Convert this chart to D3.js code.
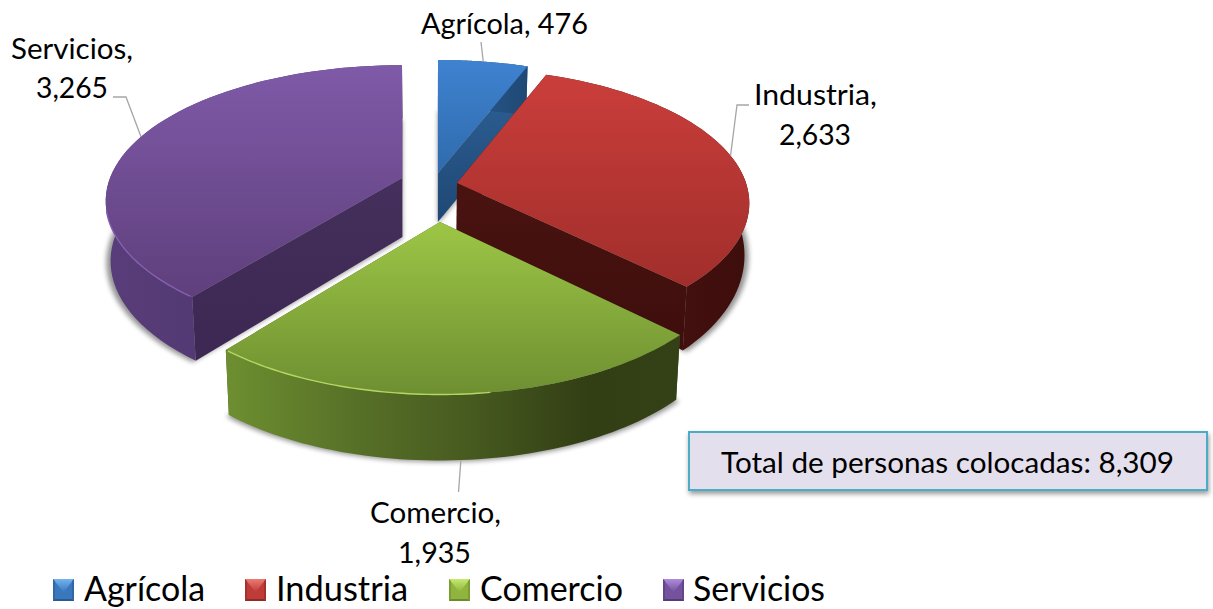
<!DOCTYPE html>
<html><head><meta charset="utf-8">
<style>html,body{margin:0;padding:0;background:#fff}svg{display:block}text{font-family:Lato,Carlito,"Open Sans",sans-serif;fill:#000}</style>
<script src="https://cdn.jsdelivr.net/npm/d3@7/dist/d3.min.js"></script></head>
<body><svg id="c" width="1213" height="609"></svg>
<script>
const categories = ["Agrícola","Industria","Comercio","Servicios"];
const values = [476,2633,1935,3265];
const valueLabels = ["476","2,633","1,935","3,265"];
const totalLabel = "Total de personas colocadas: 8,309";

// layout of the exploded slices
const centreX = [438,457,440,402];
const centreY = [173,183,222,178];
const radiusX = [290,289,290,292];
const radiusY = [130,132,138,132];
const persp   = [.15,.15,.20,.17];
const depth0  = [49,49,62,59];
const depthV  = [0,21,4,6];
const drawOrder = [0,1,3,2];
const topColors  = [["#3f82d0","#2f6bad"],["#ca3e3b","#a12e2b"],["#9dc646","#6e8f31"],["#7f5aa8","#5f3f7c"]];
const faceColors = [["#2f6299","#1f4874"],["#491310","#3e0e0c"],["#46591f","#46591f"],["#452f5c","#3c2852"]];
const sideStops  = [
  [["0","#2f6299"],["1","#1f4874"]],
  [["0","#4a1410"],["1","#3e0e0c"]],
  [["0","#6d8f30"],[".3","#566f27"],[".55","#46591f"],[".8","#323e14"],["1","#344116"]],
  [["0","#583d7a"],["1","#4a3265"]]];
const rimColors = [null,null,"#b4d764","#8461b0"];
const rimFrom = [0,0,172,219];
const rimTo   = [0,0,218.5,256];
const legendText = [[84,121],[276,132],[480,143],[693,132]];
const legendKeyX = [53,245,449,663];
const keyColors = [["#74b4f0","#3a78be","#2a5a92"],["#ee7a74","#bf3b38","#8f2a28"],["#c6e96e","#8fb53f","#6a8a2c"],["#ae8cdc","#74529e","#553a78"]];
const labelSpec = [
 [{t:"Agrícola, 476",x:421,y:34,w:167}],
 [{t:"Industria,",x:754,y:105,w:123},{t:"2,633",x:779,y:145,w:72}],
 [{t:"Comercio,",x:370,y:523,w:131},{t:"1,935",x:398,y:563,w:73}],
 [{t:"Servicios,",x:11,y:59,w:122},{t:"3,265",x:36,y:98,w:72}]];
const leaderElbows = [[[481,42]],[[749,105],[737,105]],[[458.5,492]],[[113,97],[126,97]]];

const svg = d3.select("#c");
const defs = svg.append("defs");
const globalCx = 430;
const arcs = d3.pie().sort(null).value(d=>d)(values);
const line = d3.line();

function pt(i,th,r,h,narrow=.985){
  const u=r*Math.sin(th), v=-r*Math.cos(th), s=1/(1-persp[i]*v);
  let x=centreX[i]+radiusX[i]*u*s, y=centreY[i]+radiusY[i]*v*s;
  if(h){ y+=(depth0[i]+depthV[i]*v); x=globalCx+(x-globalCx)*narrow; }
  return [x,y];
}
const sweep=(a)=>d3.range(0,61).map(k=>a.startAngle+(a.endAngle-a.startAngle)*k/60);

function grad(id,stops,horizontal){
  const g=defs.append("linearGradient").attr("id",id).attr("x1",0).attr("y1",0)
    .attr("x2",horizontal?1:0).attr("y2",horizontal?0:1);
  stops.forEach(s=>g.append("stop").attr("offset",s[0]).attr("stop-color",s[1]));
}
defs.append("filter").attr("id","blur").attr("x","-20%").attr("y","-20%").attr("width","140%").attr("height","140%")
  .append("feGaussianBlur").attr("stdDeviation",2.4);
defs.append("filter").attr("id","soft").append("feGaussianBlur").attr("stdDeviation",.4);
const bs=defs.append("filter").attr("id","boxShadow").attr("x","-5%").attr("y","-20%").attr("width","110%").attr("height","150%");
bs.append("feDropShadow").attr("dx",1).attr("dy",3).attr("stdDeviation",2.5).attr("flood-color","#000").attr("flood-opacity",.4);

categories.forEach((c,i)=>{
  grad("top"+i,[["0",topColors[i][0]],["1",topColors[i][1]]]);
  grad("face"+i,[["0",faceColors[i][0]],["1",faceColors[i][1]]]);
  grad("side"+i,sideStops[i],true);
  grad("keyTop"+i,[["0",keyColors[i][0]],["1",keyColors[i][1]]]);
});

const pie = svg.append("g");
drawOrder.forEach(i=>{
  const a=arcs[i], g=pie.append("g").attr("class","slice").datum(a);
  const ths=sweep(a);
  const apexT=[centreX[i],centreY[i]], apexB=[globalCx+(centreX[i]-globalCx)*.985,centreY[i]+depth0[i]];
  const topRim=ths.map(t=>pt(i,t,1,false)), botRim=ths.map(t=>pt(i,t,1,true));
  // soft shadow of the base, slightly wider than the base itself
  const shadowRim=ths.map(t=>pt(i,t,1,true,.998));
  g.append("path").attr("d",line([apexB,...shadowRim])+"Z").attr("transform","translate(0,1.5)")
    .attr("fill","#000").attr("opacity",.42).attr("filter","url(#blur)");
  // cut faces
  [[topRim[0],botRim[0]],[topRim[60],botRim[60]]].forEach(([t,b])=>{
    g.append("path").attr("d",line([apexT,t,b,apexB])+"Z").attr("fill",`url(#face${i})`);
  });
  // outer wall
  g.append("path").attr("d",line([...topRim,...botRim.slice().reverse()])+"Z").attr("fill",`url(#side${i})`);
  // top surface
  g.append("path").attr("d",line([apexT,...topRim])+"Z").attr("fill",`url(#top${i})`);
  // bevel on the lit part of the rim
  if(rimColors[i]){
    const deg=d3.range(rimFrom[i],rimTo[i]+.01,1).map(d=>pt(i,d*Math.PI/180,1,false));
    g.append("path").attr("d",line(deg)).attr("fill","none")
      .attr("stroke",rimColors[i]).attr("stroke-width",1.4).attr("filter","url(#soft)");
  }
});

// leaders
categories.forEach((c,i)=>{
  const a=arcs[i], mid=(a.startAngle+a.endAngle)/2;
  const end=pt(i,mid,1,i===2);
  svg.append("path").attr("d",line([...leaderElbows[i],end])).attr("fill","none")
    .attr("stroke","#a6a6a6").attr("stroke-width",1.3);
  labelSpec[i].forEach(l=>{
    svg.append("text").attr("x",l.x).attr("y",l.y).attr("font-size",28.5)
      .attr("textLength",l.w).attr("lengthAdjust","spacingAndGlyphs").text(l.t);
  });
});

// total box
svg.append("rect").attr("x",689).attr("y",432).attr("width",518).attr("height",58)
  .attr("fill","#e4dfec").attr("stroke","#4bacc6").attr("stroke-width",2).attr("filter","url(#boxShadow)");
svg.append("text").attr("x",721).attr("y",473).attr("font-size",28.5)
  .attr("textLength",453).attr("lengthAdjust","spacingAndGlyphs").text(totalLabel);

// legend
categories.forEach((c,i)=>{
  const g=svg.append("g").attr("transform",`translate(${legendKeyX[i]},579)`);
  const w=21,h=22,b=2;
  g.append("rect").attr("width",w).attr("height",h).attr("fill",keyColors[i][1]);
  g.append("path").attr("d",line([[0,0],[w,0],[w/2,h*.6]])+"Z").attr("fill",`url(#keyTop${i})`);
  g.append("path").attr("d",line([[0,h],[w,h],[w-b,h-b],[b,h-b]])+"Z").attr("fill",keyColors[i][2]);
  g.append("path").attr("d",line([[0,0],[b,b],[b,h-b],[0,h]])+"Z").attr("fill",keyColors[i][2]).attr("opacity",.55);
  g.append("path").attr("d",line([[w,0],[w-b,b],[w-b,h-b],[w,h]])+"Z").attr("fill",keyColors[i][2]).attr("opacity",.55);
  svg.append("text").attr("x",legendText[i][0]).attr("y",601).attr("font-size",35)
    .attr("textLength",legendText[i][1]).attr("lengthAdjust","spacingAndGlyphs").text(c);
});
</script></body></html>
